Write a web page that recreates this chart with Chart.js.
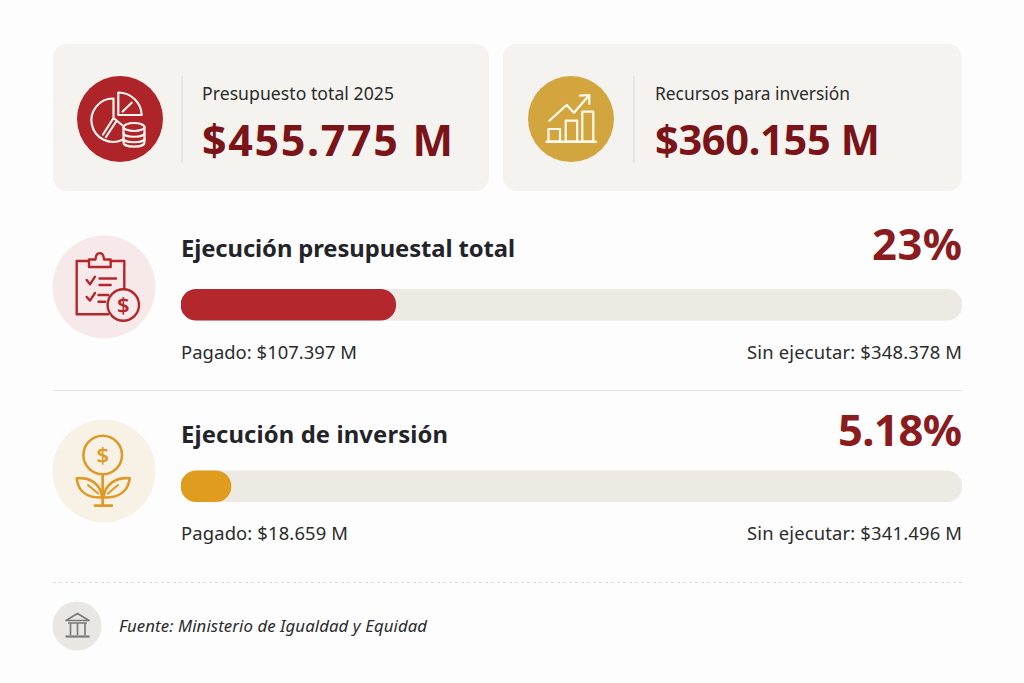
<!DOCTYPE html>
<html lang="es">
<head>
<meta charset="utf-8">
<title>Ejecución presupuestal 2025</title>
<script src="https://cdn.jsdelivr.net/npm/chart.js@4"></script>
<style>
html,body{margin:0;padding:0;background:#fdfdfd;overflow:hidden}
#stage{position:relative;width:1024px;height:683px}
#art{position:absolute;left:0;top:0}
#bars{position:absolute;left:181px;top:214px}
text{font-family:"Noto Sans",sans-serif}
</style>
</head>
<body>
<div id="stage">
<svg id="art" width="1024" height="683" xmlns="http://www.w3.org/2000/svg">
  <rect x="53" y="44" width="436" height="147" rx="14" fill="#f5f3ef"/>
  <rect x="503" y="44" width="459" height="147" rx="14" fill="#f5f3ef"/>
  <circle cx="120" cy="119" r="43" fill="#af2429"/>
  <circle cx="571" cy="119" r="43" fill="#d3a53f"/>
  <rect x="181.5" y="76" width="1" height="87" fill="#dcd9d3"/>
  <rect x="633.5" y="76" width="1" height="87" fill="#dcd9d3"/>
  <circle cx="104" cy="287" r="51.5" fill="#f7e9e9"/>
  <circle cx="104" cy="471" r="51.5" fill="#f8f1e6"/>
  <line x1="53" x2="962" y1="390.5" y2="390.5" stroke="#e3e2df"/>
  <line x1="53" x2="962" y1="582.5" y2="582.5" stroke="#dcdbd8" stroke-dasharray="3 3"/>
  <circle cx="77" cy="626" r="24.5" fill="#e9e7e3"/>

  <!-- pie + coins icon -->
  <g fill="none" stroke="#fbf4f0" stroke-width="2.2" stroke-linejoin="round" stroke-linecap="round">
    <path d="M113.5 98.5A21.7 21.7 0 1 0 122 140M113.5 98.5V118L122 125M113.5 118L103 134.5M116.5 121L106 137"/>
    <path d="M118.3 92.5V115H141.7A23.5 23.5 0 0 0 118.3 92.5ZM122.7 111.5L131.7 102.7"/>
    <path d="M123.5 127V142.5C123.5 148 144.5 148 144.5 142.5V127Z" fill="#af2429"/>
    <ellipse cx="134" cy="127" rx="10.5" ry="4" fill="#af2429"/>
    <path d="M123.5 133C123.5 138 144.5 138 144.5 133M123.5 138.5C123.5 143.5 144.5 143.5 144.5 138.5"/>
  </g>
  <!-- growth icon -->
  <g fill="none" stroke="#fffaf0" stroke-width="2.2" stroke-linecap="round" stroke-linejoin="round">
    <rect x="548.5" y="129" width="11.5" height="12.7"/>
    <rect x="565.7" y="120.7" width="11.5" height="21"/>
    <rect x="582.3" y="111.7" width="11" height="30"/>
    <path d="M546.7 141.7H595.7" stroke-width="2.6"/>
    <path d="M549.3 120.7L566.7 105L574 112.7L589.3 95M580 95.7L589.3 95V104"/>
  </g>
  <!-- clipboard icon -->
  <g fill="none" stroke="#b3272d" stroke-width="2.4" stroke-linecap="round" stroke-linejoin="round">
    <path d="M89 261H76.7V314.3H108M110.7 261H124.3V290"/>
    <path d="M89 267V259.5H95.5C96 251 103.5 251 104 259.5H110.7V267Z"/>
    <path d="M86.7 280L90 284.3L95 276.7M86.7 297L90 300.6L95 293"/>
    <path d="M99.5 278.5H116M99.5 285H110.7M98.5 295H108M98.5 301.7H105"/>
    <circle cx="123.3" cy="305" r="15.7" fill="#f7e9e9"/>
  </g>
  <text x="123.3" y="313" text-anchor="middle" font-size="22" font-weight="600" fill="#b3272d">$</text>
  <!-- plant icon -->
  <g fill="none" stroke="#dd9a26" stroke-width="2.6" stroke-linecap="round" stroke-linejoin="round">
    <circle cx="102.7" cy="455" r="19.3"/>
    <path d="M102.7 474.3V505.5M95 505.7H111.7" stroke-width="2.8"/>
    <path d="M76.7 478.3C90 477 101 484 102 497.5C88 498 78 492 76.7 478.3ZM129.7 478.3C116 477 105 484 103.5 497.5C118 498 128 492 129.7 478.3Z"/>
    <path d="M88 485L98 493.5M118 485L108 493.5" stroke-width="2"/>
  </g>
  <text x="102.7" y="463" text-anchor="middle" font-size="22" font-weight="600" fill="#dd9a26">$</text>
  <!-- bank icon -->
  <g fill="none" stroke="#7c7a77" stroke-width="1.7" stroke-linejoin="round">
    <path d="M66 620.5L77.5 613.5L89 620.5Z"/>
    <path d="M70.5 623V635M77.5 623V635M85 623V635M68 623H87"/>
    <path d="M65.5 636.5H89.5" stroke-width="2.2"/>
  </g>
  <g id="labels"></g>
</svg>
<canvas id="bars" width="781" height="363" style="width:781px;height:363px"></canvas>
</div>
<script>
// Values as printed in the reference
const cardLabels = ["Presupuesto total 2025", "Recursos para inversión"];
const cardValues = ["$455.775 M", "$360.155 M"];
const categories = ["Ejecución presupuestal total", "Ejecución de inversión"];
const percentLabels = ["23%", "5.18%"];
const paidLabels = ["Pagado: $107.397 M", "Pagado: $18.659 M"];
const unpaidLabels = ["Sin ejecutar: $348.378 M", "Sin ejecutar: $341.496 M"];
const sourceLabel = "Fuente: Ministerio de Igualdad y Equidad";
// Bar lengths as drawn in the picture (% of the track), not as the printed percentages
const paidBarLength = [27.5, 6.4];
const trackLength = [100, 100];
const paidColors = ["#b3272d", "#e09c1f"];
const trackColor = "#edeae4";

const NS = "http://www.w3.org/2000/svg";
const host = document.getElementById("labels");
function put(str, x, y, size, weight, fill, width, opts) {
  const t = document.createElementNS(NS, "text");
  t.setAttribute("x", x); t.setAttribute("y", y);
  t.setAttribute("font-size", size); t.setAttribute("font-weight", weight);
  t.setAttribute("fill", fill);
  if (width) t.setAttribute("textLength", width);
  if (opts && opts.anchor) t.setAttribute("text-anchor", opts.anchor);
  if (opts && opts.italic) t.setAttribute("font-style", "italic");
  t.textContent = str;
  host.appendChild(t);
}
const textDark = "#2b2b2d", maroon = "#7a1418", pct = "#8a1c20";
put(cardLabels[0], 202, 100, 17.6, 400, textDark, 192);
put(cardLabels[1], 655, 100, 17.4, 400, textDark, 195);
put(cardValues[0], 202, 156, 43, 700, maroon, 251);
put(cardValues[1], 655, 155, 41.5, 700, maroon, 225);
const titleY = [257, 443], pctY = [260, 446], noteY = [359, 540];
const titleW = [334, 267], pctW = [90, 124], paidW = [176, 167], unpaidW = [215, 215];
categories.forEach((c, i) => {
  put(c, 181, titleY[i], 23.8, 700, "#23242a", titleW[i]);
  put(percentLabels[i], 962, pctY[i], 43.5, 700, pct, pctW[i], {anchor: "end"});
  put(paidLabels[i], 181, noteY[i], 18.4, 400, textDark, paidW[i]);
  put(unpaidLabels[i], 962, noteY[i], 18.4, 400, textDark, unpaidW[i], {anchor: "end"});
});
put(sourceLabel, 119, 632, 16.8, 400, textDark, 308, {italic: true});

new Chart(document.getElementById("bars"), {
  type: "bar",
  data: {
    labels: categories,
    datasets: [
      {label: "Pagado", data: paidBarLength, backgroundColor: paidColors, order: 1,
       grouped: false, barThickness: 31, borderRadius: 16, borderSkipped: false},
      {label: "Total", data: trackLength, backgroundColor: trackColor, order: 2,
       grouped: false, barThickness: 31, borderRadius: 16, borderSkipped: false}
    ]
  },
  options: {
    indexAxis: "y",
    responsive: false,
    animation: false,
    devicePixelRatio: 1,
    layout: {padding: 0},
    plugins: {legend: {display: false}, tooltip: {enabled: false}},
    scales: {
      x: {min: 0, max: 100, display: false},
      y: {display: false}
    }
  }
});
</script>
</body>
</html>
